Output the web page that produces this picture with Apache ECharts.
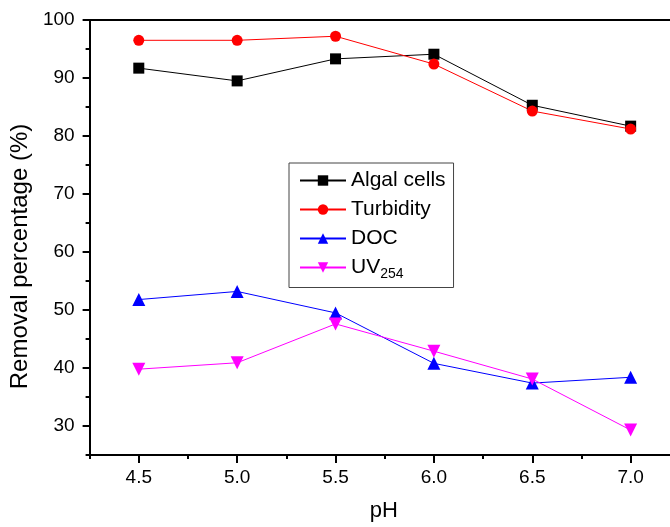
<!DOCTYPE html>
<html><head><meta charset="utf-8">
<script src="https://cdn.jsdelivr.net/npm/echarts@6/dist/echarts.min.js"></script>
<style>html,body{margin:0;padding:0;background:#fff}#c{width:670px;height:527px}</style>
</head><body><div id="c"></div>
<script>
const phValues = [4.5, 5.0, 5.5, 6.0, 6.5, 7.0];
const algalCells = [91.7, 89.5, 93.3, 94.1, 85.3, 81.7];
const turbidity = [96.5, 96.5, 97.2, 92.4, 84.3, 81.2];
const doc = [51.8, 53.2, 49.5, 40.8, 37.4, 38.4];
const uv254 = [39.8, 40.9, 47.6, 42.9, 38.1, 29.3];
const xMajorTicks = [4.5, 5.0, 5.5, 6.0, 6.5, 7.0];
const xMinorTicks = [4.25, 4.75, 5.25, 5.75, 6.25, 6.75];
const yMajorTicks = [30, 40, 50, 60, 70, 80, 90, 100];
const yMinorTicks = [25, 35, 45, 55, 65, 75, 85, 95];
const seriesNames = ['Algal cells', 'Turbidity', 'DOC', 'UV254'];

const FONT = "'Liberation Sans', Arial, sans-serif";
const pairs = arr => phValues.map((x, i) => [x, arr[i]]);
const chart = echarts.init(document.getElementById('c'), null, {renderer: 'canvas'});
const axisBlack = {color: '#000', width: 2};
const xMin = 4.25, xMax = 7.2, yMin = 25, yMax = 100;

chart.setOption({
  animation: false,
  backgroundColor: '#fff',
  textStyle: {fontFamily: FONT, color: '#000'},
  grid: {left: 86, right: 0, top: 20, bottom: 67},
  xAxis: [
    {type: 'value', min: xMin, max: xMax, position: 'bottom',
      axisLine: {lineStyle: axisBlack},
      axisTick: {customValues: xMajorTicks, length: 8, inside: false, lineStyle: axisBlack},
      axisLabel: {customValues: xMajorTicks, formatter: v => Number(v).toFixed(1), fontSize: 19, color: '#000', margin: 13, fontFamily: FONT},
      splitLine: {show: false},
      name: 'pH', nameLocation: 'middle', nameGap: 45,
      nameTextStyle: {fontSize: 22, color: '#000', fontFamily: FONT, padding: [0, 0, 0, 8]}},
    {type: 'value', min: xMin, max: xMax, position: 'bottom',
      axisLine: {show: false},
      axisTick: {customValues: xMinorTicks, length: 4, lineStyle: axisBlack},
      axisLabel: {show: false}, splitLine: {show: false}},
    {type: 'value', min: xMin, max: xMax, position: 'top',
      axisLine: {lineStyle: axisBlack},
      axisTick: {show: false}, axisLabel: {show: false}, splitLine: {show: false}}
  ],
  yAxis: [
    {type: 'value', min: yMin, max: yMax, position: 'left',
      axisLine: {show: true, lineStyle: axisBlack},
      axisTick: {show: true, customValues: yMajorTicks, length: 7, lineStyle: axisBlack},
      axisLabel: {customValues: yMajorTicks, fontSize: 19, color: '#000', margin: 15, fontFamily: FONT},
      splitLine: {show: false},
      name: 'Removal percentage (%)', nameLocation: 'middle', nameGap: 52,
      nameTextStyle: {fontSize: 24, color: '#000', fontFamily: FONT, padding: [0, 38, 0, 0]}},
    {type: 'value', min: yMin, max: yMax, position: 'left',
      axisLine: {show: false},
      axisTick: {show: true, customValues: yMinorTicks, length: 4, lineStyle: axisBlack},
      axisLabel: {show: false}, splitLine: {show: false}}
  ],
  legend: {
    orient: 'vertical', left: 289, top: 163,
    padding: [7, 8, 6, 10], itemGap: 8, itemWidth: 46, itemHeight: 13,
    borderColor: '#444', borderWidth: 1,
    data: seriesNames,
    formatter: n => n === 'UV254' ? '{m|UV}{s|254}' : n,
    textStyle: {fontSize: 21, color: '#000', fontFamily: FONT,
      rich: {m: {fontSize: 21, fontFamily: FONT, color: '#000'},
             s: {fontSize: 14, fontFamily: FONT, color: '#000', padding: [14, 0, 0, 0]}}}
  },
  series: [
    {name: seriesNames[0], type: 'line', data: pairs(algalCells), symbol: 'rect', symbolSize: 11,
      itemStyle: {color: '#000'}, lineStyle: {color: '#000', width: 1}},
    {name: seriesNames[1], type: 'line', data: pairs(turbidity), symbol: 'circle', symbolSize: 11,
      itemStyle: {color: '#ff0000'}, lineStyle: {color: '#ff0000', width: 1}},
    {name: seriesNames[2], type: 'line', data: pairs(doc), symbol: 'triangle', symbolSize: 13,
      itemStyle: {color: '#0000ff'}, lineStyle: {color: '#0000ff', width: 1}},
    {name: seriesNames[3], type: 'line', data: pairs(uv254), symbol: 'path://M0,0 L10,0 L5,9 Z', symbolSize: 13,
      itemStyle: {color: '#ff00ff'}, lineStyle: {color: '#ff00ff', width: 1}}
  ]
});
</script>
</body></html>
